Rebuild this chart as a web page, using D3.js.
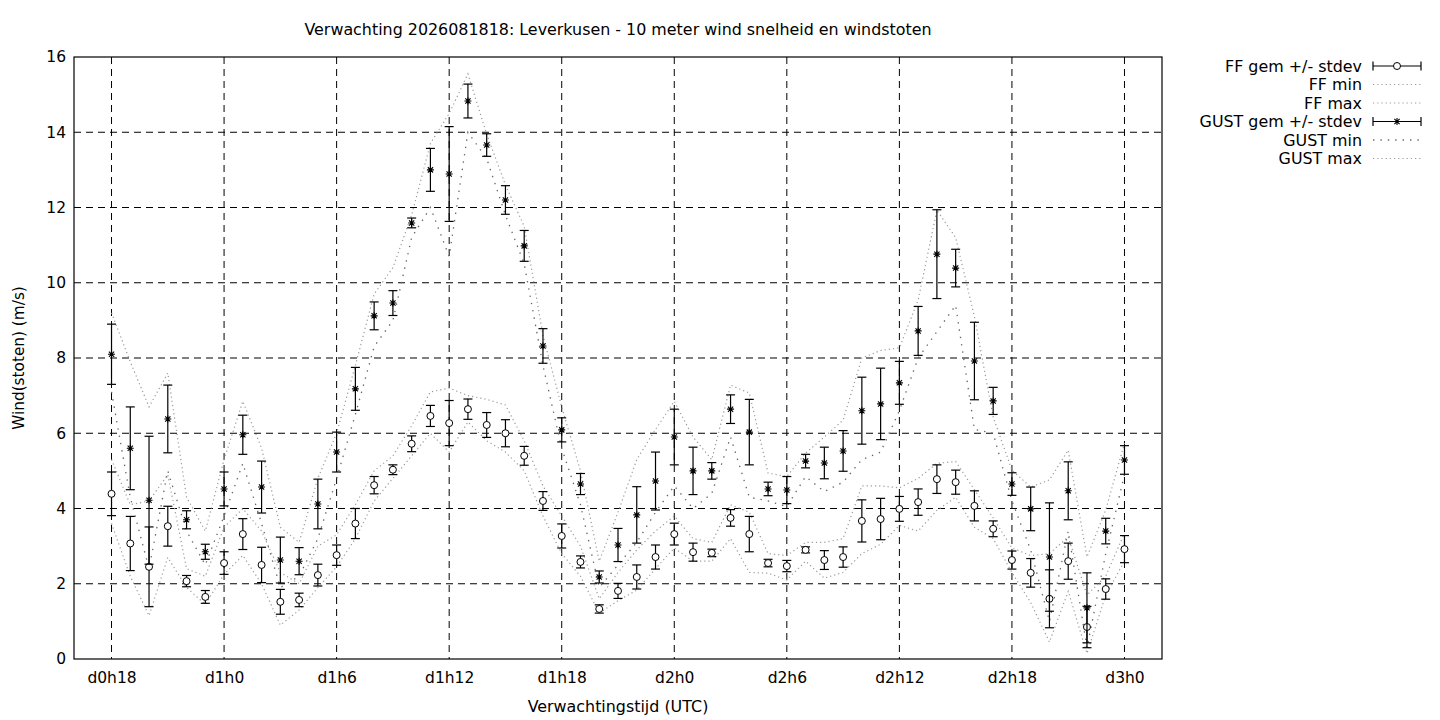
<!DOCTYPE html>
<html><head><meta charset="utf-8">
<script src="https://cdn.jsdelivr.net/npm/d3@7"></script>
<style>
body{margin:0;background:#fff;}
svg text{font-family:"DejaVu Sans",sans-serif;fill:#000;}
</style></head>
<body>
<svg id="c" width="1440" height="720"></svg>
<script>
// forecast hours (hour 18 of day 0 .. hour 0 of day 3)
const hours = d3.range(18, 73);
const tickHours = [18,24,30,36,42,48,54,60,66,72];
const tickLabels = ["d0h18","d1h0","d1h6","d1h12","d1h18","d2h0","d2h6","d2h12","d2h18","d3h0"];
const yTicks = [0,2,4,6,8,10,12,14,16];

const ffMean = [4.39,3.07,2.45,3.53,2.07,1.65,2.55,3.32,2.5,1.52,1.57,2.23,2.76,3.6,4.62,5.03,5.72,6.46,6.27,6.64,6.22,6.0,5.4,4.2,3.27,2.58,1.33,1.81,2.18,2.71,3.32,2.84,2.82,3.75,3.32,2.55,2.47,2.9,2.63,2.71,3.67,3.72,3.99,4.17,4.78,4.7,4.07,3.46,2.63,2.29,1.6,2.6,0.85,1.86,2.92];
const ffStd = [0.58,0.72,1.06,0.53,0.15,0.17,0.3,0.41,0.47,0.33,0.18,0.29,0.27,0.4,0.23,0.13,0.21,0.28,0.6,0.27,0.33,0.36,0.25,0.25,0.32,0.16,0.11,0.2,0.32,0.32,0.29,0.24,0.1,0.22,0.47,0.1,0.15,0.08,0.25,0.27,0.56,0.55,0.33,0.35,0.38,0.32,0.4,0.21,0.24,0.38,0.77,0.48,0.55,0.27,0.36];
const ffMin = [3.6,2.2,1.15,2.7,1.9,1.45,2.25,2.75,2.0,0.9,1.3,1.9,2.45,3.2,4.2,4.8,5.4,6.0,5.5,6.3,5.8,5.5,5.0,3.8,2.8,2.2,1.22,1.55,1.83,2.4,2.95,2.6,2.6,3.2,2.3,2.28,2.1,2.6,2.15,2.3,2.8,3.05,3.55,3.4,3.95,4.3,3.5,3.2,2.3,1.5,0.45,1.8,0.15,1.7,2.6];
const ffMax = [5.3,4.1,4.2,4.9,2.4,2.2,3.5,4.0,3.4,2.3,2.0,3.0,3.3,4.1,5.0,5.4,6.2,7.1,7.2,7.0,6.9,6.75,5.8,4.6,3.8,3.0,1.6,2.3,2.9,3.4,3.8,3.2,3.1,4.1,3.9,2.8,2.75,3.1,3.1,3.2,4.6,4.6,4.55,4.8,5.2,5.25,4.5,3.75,2.95,2.75,2.8,3.25,1.7,2.2,3.35];

const gustMean = [8.1,5.6,4.22,6.38,3.7,2.85,4.52,5.96,4.57,2.63,2.6,4.12,5.5,7.18,9.12,9.46,11.59,13.0,12.89,14.83,13.66,12.2,10.98,8.32,6.09,4.65,2.18,3.03,3.83,4.73,5.9,5.0,5.0,6.64,6.03,4.52,4.49,5.26,5.21,5.53,6.6,6.78,7.34,8.72,10.76,10.39,7.92,6.86,4.65,3.99,2.71,4.47,1.36,3.4,5.29];
const gustStd = [0.8,1.1,1.7,0.9,0.24,0.2,0.45,0.52,0.69,0.61,0.36,0.66,0.53,0.57,0.37,0.33,0.13,0.57,1.26,0.45,0.3,0.38,0.41,0.46,0.32,0.28,0.16,0.44,0.75,0.77,0.74,0.63,0.22,0.38,0.87,0.18,0.36,0.18,0.42,0.54,0.89,0.95,0.57,0.65,1.18,0.5,1.03,0.36,0.3,0.58,1.44,0.77,0.93,0.34,0.38];
const gustMin = [7.1,4.3,2.4,5.0,3.4,2.5,3.8,5.2,3.6,1.9,2.2,3.2,4.8,6.5,8.3,9.0,11.2,12.0,10.7,14.0,13.3,11.8,10.5,7.8,5.6,4.1,1.9,2.5,3.1,3.9,4.6,4.0,4.4,5.9,4.3,4.2,4.05,4.85,4.45,4.7,5.3,5.5,6.6,8.0,8.7,9.4,6.1,6.0,4.2,2.9,1.0,3.4,0.3,2.8,4.9];
const gustMax = [9.2,7.9,6.7,7.6,4.3,3.4,5.3,6.85,5.6,3.5,3.1,4.8,6.0,7.8,9.7,10.4,11.8,13.7,14.5,15.55,13.95,12.6,11.5,8.6,6.7,5.0,2.6,3.9,5.3,6.1,6.85,5.9,5.3,7.28,7.07,4.94,4.85,5.47,5.9,6.35,8.0,8.2,8.27,9.54,11.93,11.2,9.1,6.43,5.02,4.57,4.76,5.55,2.71,3.96,5.74];

const title = "Verwachting 2026081818: Leverkusen - 10 meter wind snelheid en windstoten";
const xTitle = "Verwachtingstijd (UTC)";
const yTitle = "Wind(stoten) (m/s)";
const legendLabels = ["FF gem +/- stdev","FF min","FF max","GUST gem +/- stdev","GUST min","GUST max"];

const L=74, R=1162, T=57, B=659;
const svg = d3.select("#c");
const x = d3.scaleLinear().domain([16,74]).range([L,R]);
const y = d3.scaleLinear().domain([0,16]).range([B,T]);

const lightDot = {stroke:"#9a9a9a", dash:"1.2,3", w:1.2};
const darkDot = {stroke:"#666", dash:"1.4,6", w:1.3};

// grid
const g = svg.append("g");
g.selectAll(".gx").data(tickHours).join("line")
 .attr("x1",d=>x(d)).attr("x2",d=>x(d)).attr("y1",T).attr("y2",B)
 .attr("stroke","#000").attr("stroke-width",1).attr("stroke-dasharray","7,5");
g.selectAll(".gy").data(yTicks.slice(1,-1)).join("line")
 .attr("x1",L).attr("x2",R).attr("y1",d=>y(d)).attr("y2",d=>y(d))
 .attr("stroke","#000").attr("stroke-width",1).attr("stroke-dasharray","7,5");

// axes (labels only; border drawn separately)
const xAxis = d3.axisBottom(x).tickValues(tickHours).tickFormat((d,i)=>tickLabels[i]).tickSize(0).tickPadding(13);
const gxA = svg.append("g").attr("transform",`translate(0,${B})`).call(xAxis);
gxA.select(".domain").remove();
gxA.selectAll("text").attr("font-size","15.5px").attr("font-family","DejaVu Sans").attr("fill","#000");
const yAxis = d3.axisLeft(y).tickValues(yTicks).tickSize(0).tickPadding(8);
const gyA = svg.append("g").attr("transform",`translate(${L},0)`).call(yAxis);
gyA.select(".domain").remove();
gyA.selectAll("text").attr("font-size","15.5px").attr("font-family","DejaVu Sans").attr("fill","#000");

// envelope lines
const line = d3.line().x((d,i)=>x(hours[i])).y(d=>y(d));
function env(data, st){
  svg.append("path").attr("d",line(data)).attr("fill","none")
    .attr("stroke",st.stroke).attr("stroke-width",st.w).attr("stroke-dasharray",st.dash);
}
env(ffMin, lightDot); env(ffMax, lightDot);
env(gustMin, darkDot); env(gustMax, lightDot);

// error bars
function errorBars(mean, sd, marker){
  const grp = svg.append("g");
  hours.forEach((h,i)=>{
    const cx = x(h), lo = y(mean[i]-sd[i]), hi = y(mean[i]+sd[i]);
    grp.append("line").attr("x1",cx).attr("x2",cx).attr("y1",lo).attr("y2",hi).attr("stroke","#000").attr("stroke-width",1.2);
    grp.append("line").attr("x1",cx-4.5).attr("x2",cx+4.5).attr("y1",lo).attr("y2",lo).attr("stroke","#000").attr("stroke-width",1.2);
    grp.append("line").attr("x1",cx-4.5).attr("x2",cx+4.5).attr("y1",hi).attr("y2",hi).attr("stroke","#000").attr("stroke-width",1.2);
    marker(grp, cx, y(mean[i]));
  });
}
function circ(grp,cx,cy){ grp.append("circle").attr("cx",cx).attr("cy",cy).attr("r",3.5).attr("fill","#fff").attr("stroke","#000").attr("stroke-width",1); }
function star(grp,cx,cy){
  const s=3.5, p=`M${cx-s},${cy}H${cx+s}M${cx},${cy-s}V${cy+s}M${cx-s*0.75},${cy-s*0.75}L${cx+s*0.75},${cy+s*0.75}M${cx-s*0.75},${cy+s*0.75}L${cx+s*0.75},${cy-s*0.75}`;
  grp.append("path").attr("d",p).attr("stroke","#000").attr("stroke-width",1.1).attr("fill","none");
}
errorBars(ffMean, ffStd, circ);
errorBars(gustMean, gustStd, star);

// border
svg.append("rect").attr("x",L).attr("y",T).attr("width",R-L).attr("height",B-T).attr("fill","none").attr("stroke","#000").attr("stroke-width",1.2);

// titles
svg.append("text").attr("x",618).attr("y",35).attr("text-anchor","middle").attr("font-size","15.9px").text(title);
svg.append("text").attr("x",618).attr("y",712).attr("text-anchor","middle").attr("font-size","15.9px").text(xTitle);
svg.append("text").attr("transform","translate(24,358) rotate(-90)").attr("text-anchor","middle").attr("font-size","15.3px").text(yTitle);

// legend
const lg = svg.append("g");
const styles = ["ebc", lightDot, lightDot, "ebs", darkDot, lightDot];
legendLabels.forEach((lab,i)=>{
  const yy = 66 + i*18.5;
  lg.append("text").attr("x",1362).attr("y",yy+5.5).attr("text-anchor","end").attr("font-size","15.9px").text(lab);
  const st = styles[i];
  if (typeof st === "string"){
    lg.append("line").attr("x1",1373).attr("x2",1421).attr("y1",yy).attr("y2",yy).attr("stroke","#000").attr("stroke-width",1.2);
    lg.append("line").attr("x1",1373).attr("x2",1373).attr("y1",yy-4.5).attr("y2",yy+4.5).attr("stroke","#000").attr("stroke-width",1.2);
    lg.append("line").attr("x1",1421).attr("x2",1421).attr("y1",yy-4.5).attr("y2",yy+4.5).attr("stroke","#000").attr("stroke-width",1.2);
    if (st==="ebc") circ(lg,1397,yy); else star(lg,1397,yy);
  } else {
    lg.append("line").attr("x1",1373).attr("x2",1421).attr("y1",yy).attr("y2",yy)
      .attr("stroke",st.stroke).attr("stroke-width",st.w).attr("stroke-dasharray",st.dash);
  }
});
</script>
</body></html>
